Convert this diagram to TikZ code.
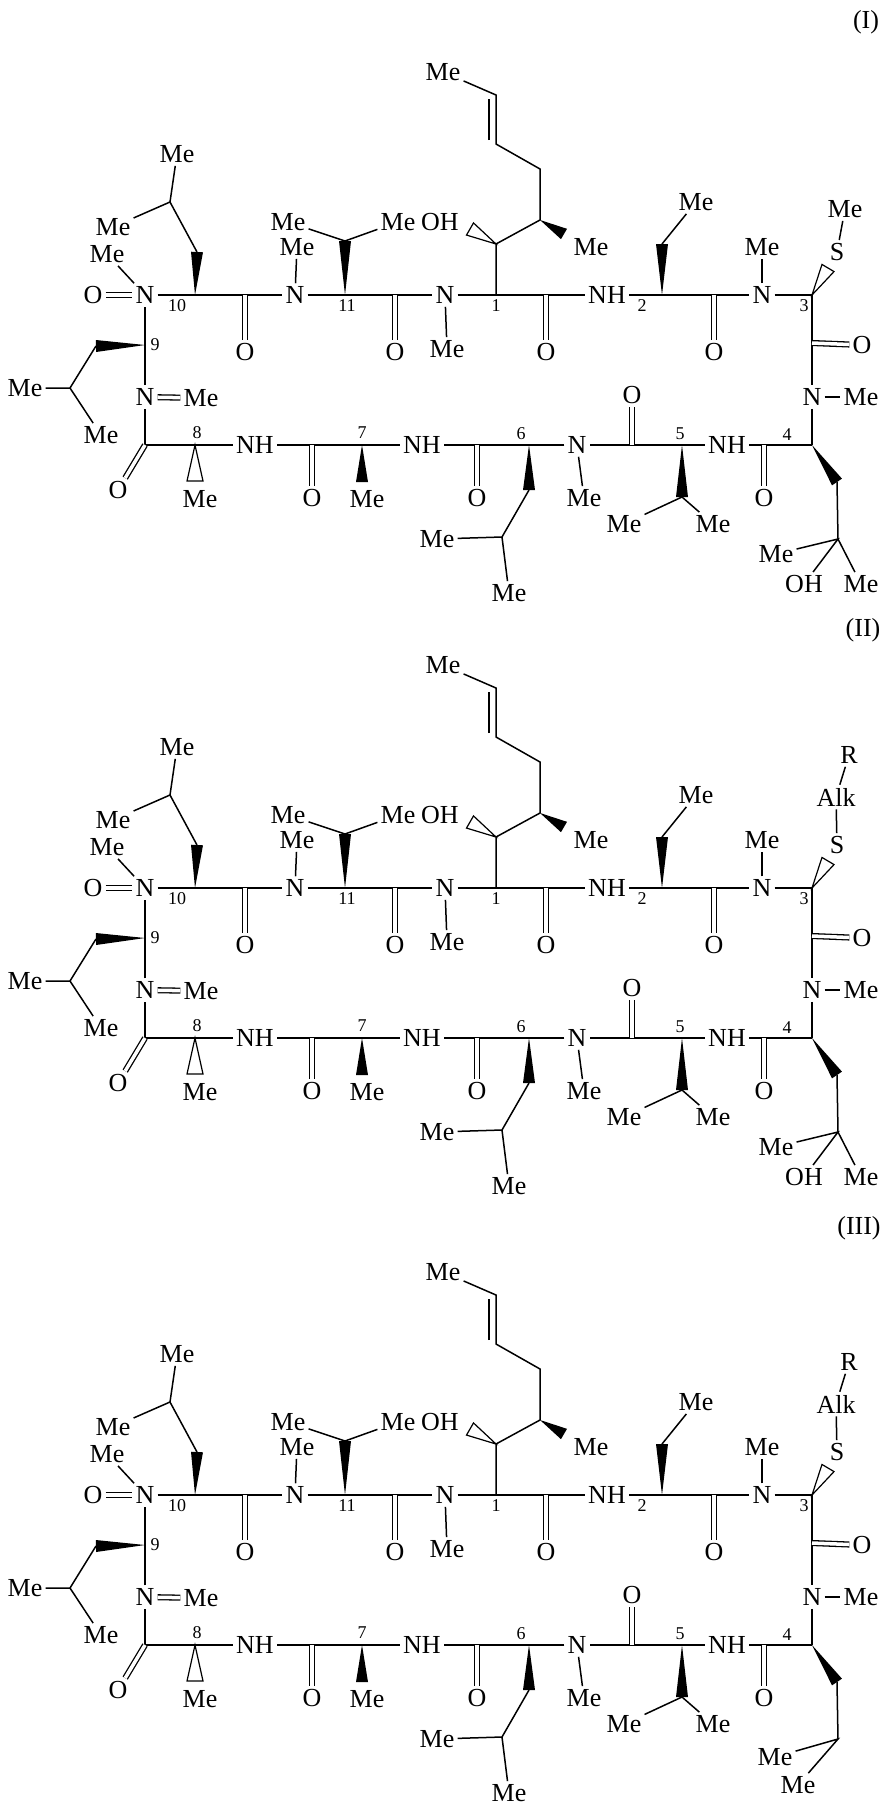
\documentclass[tikz,border=0pt]{standalone}
\usepackage{fontspec}
\setmainfont{Liberation Serif}
\usetikzlibrary{calc}
\newcommand\chemfont{\fontsize{26}{26}\selectfont}
\newcommand\numfont{\fontsize{18}{18}\selectfont}
\tikzset{
  atom/.style={inner sep=2.5pt, font=\chemfont},
  num/.style={inner sep=0pt, font=\numfont},
  dbl/.style={double, double distance=3.5pt, line width=1.3pt},
}
% filled and open wedge bonds
\newcommand\wdg[3]{\fill ($(#1)$) -- ($(#2)!#3!90:(#1)$) -- ($(#2)!#3!-90:(#1)$) -- cycle;}
\newcommand\owdg[3]{\draw[line width=1.2pt, line join=miter] ($(#1)$) -- ($(#2)!#3!90:(#1)$) -- ($(#2)!#3!-90:(#1)$) -- cycle;}

% ring common to the three formulae
\newcommand\cyclo{%
  % top row
  \node[atom] (O10) at (93,0) {O};
  \node[atom] (N10) at (145,0) {N};
  \coordinate (C10) at (195,0);
  \node[num] at (177,11) {10};
  \coordinate (W10) at (197,-43);
  \coordinate (CH10) at (170,-93);
  \node[atom] (MeA10) at (177,-141) {Me};
  \node[atom] (MeB10) at (113,-68) {Me};
  \node[atom] (MeN10) at (107,-41) {Me};
  \coordinate (K10) at (245,0);
  \node[atom] (OK10) at (245,57) {O};
  \node[atom] (N11) at (295,0) {N};
  \node[atom] (MeN11) at (297,-48) {Me};
  \coordinate (C11) at (345,0);
  \node[num] at (347,11) {11};
  \coordinate (W11) at (345,-54);
  \node[atom] (MeA11) at (288,-73) {Me};
  \node[atom] (MeB11) at (398,-73) {Me};
  \coordinate (K11) at (395,0);
  \node[atom] (OK11) at (395,57) {O};
  \node[atom] (N1) at (445,0) {N};
  \node[atom] (MeN1) at (447,54) {Me};
  \coordinate (C1) at (496,0);
  \node[num] at (496,11) {1};
  \coordinate (C1a) at (496,-51);
  \coordinate (T1) at (470,-66);
  \node[atom] (OH1) at (440,-73) {OH};
  \coordinate (C1b) at (540,-75);
  \coordinate (W1) at (564,-61);
  \node[atom] (MeW1) at (591,-48) {Me};
  \coordinate (C1c) at (540,-126);
  \coordinate (C1d) at (496,-151);
  \coordinate (C1e) at (496,-200);
  \node[atom] (MeE1) at (443,-223) {Me};
  \coordinate (K1) at (546,0);
  \node[atom] (OK1) at (546,57) {O};
  \node[atom] (NH2) at (607,0) {NH};
  \node[num] at (642,11) {2};
  \coordinate (C2) at (662,0);
  \coordinate (W2) at (662,-51);
  \node[atom] (MeC2) at (696,-93) {Me};
  \coordinate (K2) at (714,0);
  \node[atom] (OK2) at (714,57) {O};
  \node[atom] (N3) at (762,0) {N};
  \node[atom] (MeN3) at (762,-48) {Me};
  \coordinate (C3) at (812,0);
  \node[num] at (804,11) {3};
  \coordinate (T3) at (828,-27);
  \node[atom] (S) at (837,-43) {S};
  % right side
  \coordinate (K3) at (812,50);
  \node[atom] (OK3) at (862,50) {O};
  \node[atom] (N4) at (812,102) {N};
  \node[atom] (MeN4) at (861,102) {Me};
  \coordinate (C4) at (812,150);
  \node[num] at (787,140) {4};
  \coordinate (W4) at (837,187);
  \coordinate (CH4) at (838,244);
  % bottom row
  \coordinate (K4) at (764,150);
  \node[atom] (OK4) at (764,203) {O};
  \node[atom] (NH5) at (727,150) {NH};
  \coordinate (C5) at (682,150);
  \node[num] at (680,139) {5};
  \coordinate (W5) at (682,202);
  \node[atom] (MeA5) at (624,229) {Me};
  \node[atom] (MeB5) at (713,229) {Me};
  \coordinate (K5) at (632,150);
  \node[atom] (OK5) at (632,100) {O};
  \node[atom] (N6) at (577,150) {N};
  \node[atom] (MeN6) at (584,203) {Me};
  \coordinate (C6) at (529,150);
  \node[num] at (521,139) {6};
  \coordinate (W6) at (529,195);
  \coordinate (CH6) at (502,242);
  \node[atom] (MeA6) at (437,244) {Me};
  \node[atom] (MeB6) at (509,298) {Me};
  \coordinate (K6) at (477,150);
  \node[atom] (OK6) at (477,203) {O};
  \node[atom] (NH7) at (422,150) {NH};
  \coordinate (C7) at (362,150);
  \node[num] at (362,138) {7};
  \coordinate (W7) at (362,187);
  \node[atom] (MeC7) at (367,204) {Me};
  \coordinate (K7) at (312,150);
  \node[atom] (OK7) at (312,203) {O};
  \node[atom] (NH8) at (255,150) {NH};
  \coordinate (C8) at (195,150);
  \node[num] at (197,138) {8};
  \coordinate (T8) at (195,186);
  \node[atom] (MeC8) at (200,204) {Me};
  \coordinate (K8) at (145,150);
  \node[atom] (OK8) at (118,195) {O};
  % left side
  \node[atom] (N9) at (145,102) {N};
  \node[atom] (MeN9) at (201,103) {Me};
  \coordinate (C9) at (145,50);
  \node[num] at (155,50) {9};
  \coordinate (W9) at (96,51);
  \coordinate (CH9) at (70,93);
  \node[atom] (MeA9) at (25,93) {Me};
  \node[atom] (MeB9) at (101,140) {Me};
  % ring bonds
  \draw[dbl] (O10) -- (N10);
  \draw (N10) -- (C10) -- (K10) -- (N11) -- (C11) -- (K11) -- (N1) -- (C1) -- (K1) -- (NH2) -- (C2) -- (K2) -- (N3) -- (C3);
  \draw (C3) -- (K3) -- (N4) -- (C4);
  \draw (C4) -- (K4) -- (NH5) -- (C5) -- (K5) -- (N6) -- (C6) -- (K6) -- (NH7) -- (C7) -- (K7) -- (NH8) -- (C8) -- (K8) -- (N9) -- (C9) -- (N10);
  \foreach \k in {10,11,1,2,4,6,7,5,8} {\draw[dbl] (K\k) -- (OK\k);}
  \draw[dbl] ($(K3)+(0,-2)$) -- (OK3);
  \draw[dbl] (N9) -- (MeN9);
  \foreach \n in {10,11,1,3,4,6} {\draw (N\n) -- (MeN\n);}
  % side chains
  \wdg{C10}{W10}{6pt}
  \draw (W10) -- (CH10) -- (MeA10);
  \draw (CH10) -- (MeB10);
  \wdg{C11}{W11}{6pt}
  \draw (MeA11) -- (W11) -- (MeB11);
  \draw (C1) -- (C1a) -- (C1b) -- (C1c) -- (C1d) -- (C1e) -- (MeE1);
  \draw ($(C1d)+(-7,-4)$) -- ($(C1e)+(-7,4)$);
  \owdg{C1a}{T1}{7pt}
  \wdg{C1b}{W1}{6pt}
  \wdg{C2}{W2}{6pt}
  \draw (W2) -- (MeC2);
  \owdg{C3}{T3}{7pt}
  \wdg{C4}{W4}{6pt}
  \draw (W4) -- (CH4);
  \wdg{C5}{W5}{6pt}
  \draw (MeA5) -- (W5) -- (MeB5);
  \wdg{C6}{W6}{6pt}
  \draw (W6) -- (CH6) -- (MeA6);
  \draw (CH6) -- (MeB6);
  \wdg{C7}{W7}{6pt}
  \owdg{C8}{T8}{8pt}
  \wdg{C9}{W9}{6pt}
  \draw (W9) -- (CH9) -- (MeA9);
  \draw (CH9) -- (MeB9);
}

\begin{document}
\begin{tikzpicture}[x=1pt, y=-1pt, line width=1.5pt]
  \useasboundingbox (0,0) rectangle (889,1805);
  % formula (I)
  \node[atom] (labI) at (866,22) {(I)};
  \begin{scope}[shift={(0,295)}, name prefix=a-]
    \cyclo
    \node[atom] (MeS) at (845,-86) {Me};
    \draw (S) -- (MeS);
    \node[atom] (MeP4) at (776,259) {Me};
    \node[atom] (OH4) at (804,289) {OH};
    \node[atom] (MeQ4) at (861,289) {Me};
    \draw (MeP4) -- (CH4) -- (OH4);
    \draw (CH4) -- (MeQ4);
  \end{scope}
  % formula (II)
  \node[atom] (labII) at (863,630) {(II)};
  \begin{scope}[shift={(0,888)}, name prefix=b-]
    \cyclo
    \node[atom] (Alk) at (836,-91) {Alk};
    \node[atom] (R) at (849,-133) {R};
    \draw (S) -- (Alk) -- (R);
    \node[atom] (MeP4) at (776,259) {Me};
    \node[atom] (OH4) at (804,289) {OH};
    \node[atom] (MeQ4) at (861,289) {Me};
    \draw (MeP4) -- (CH4) -- (OH4);
    \draw (CH4) -- (MeQ4);
  \end{scope}
  % formula (III)
  \node[atom] (labIII) at (859,1228) {(III)};
  \begin{scope}[shift={(0,1495)}, name prefix=c-]
    \cyclo
    \node[atom] (Alk) at (836,-91) {Alk};
    \node[atom] (R) at (849,-133) {R};
    \draw (S) -- (Alk) -- (R);
    \node[atom] (MeP4) at (775,262) {Me};
    \node[atom] (MeQ4) at (798,290) {Me};
    \draw (MeP4) -- (CH4) -- (MeQ4);
  \end{scope}
\end{tikzpicture}
\end{document}
